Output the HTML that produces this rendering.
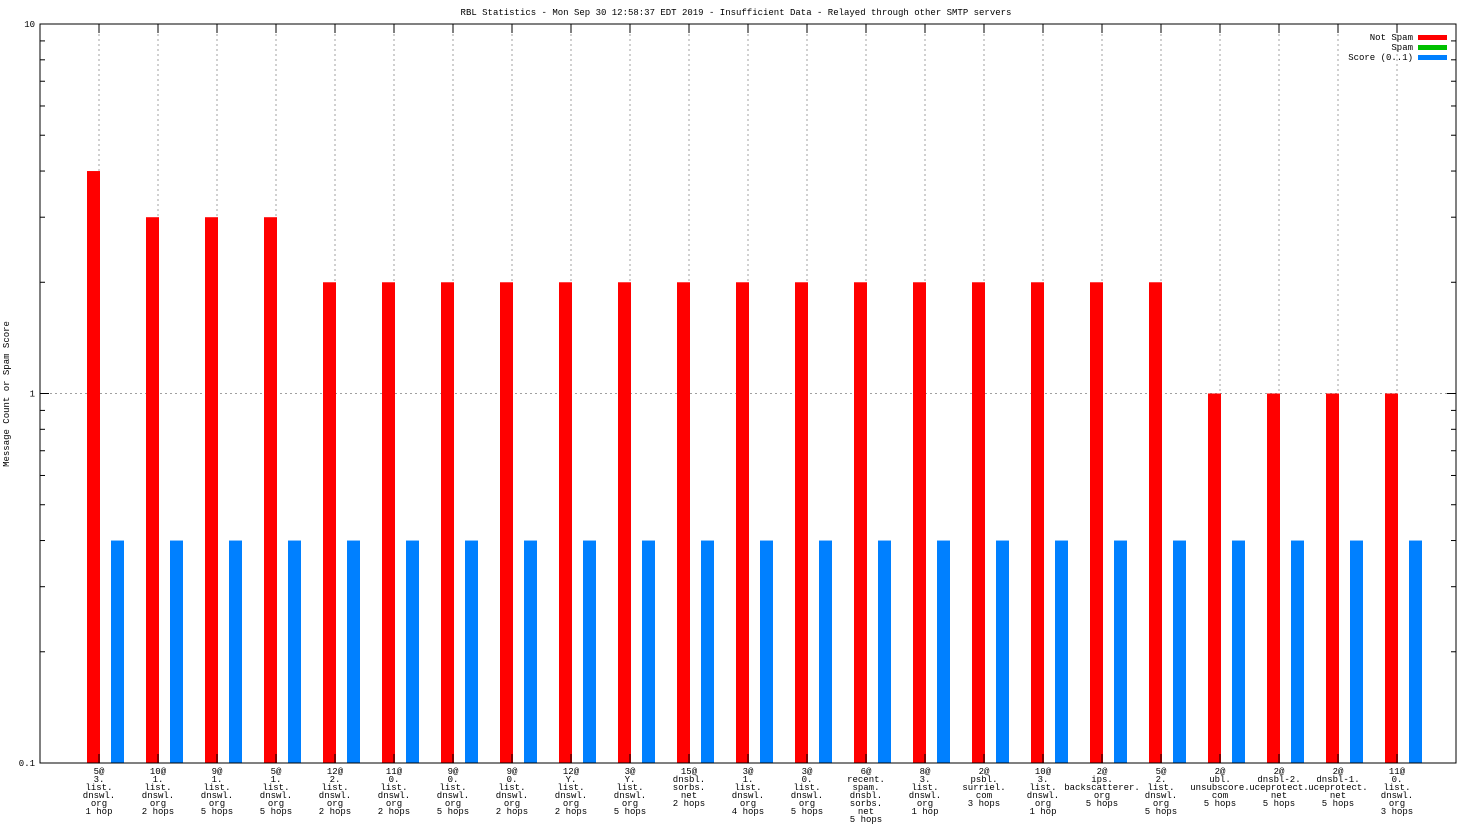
<!DOCTYPE html>
<html><head><meta charset="utf-8"><style>
body{margin:0;background:#fff;}
svg{display:block;font-family:"Liberation Mono","DejaVu Sans Mono",monospace;font-size:9px;}
</style></head><body>
<svg id="chart" width="1472" height="828" xmlns="http://www.w3.org/2000/svg">
<text x="736" y="15" text-anchor="middle">RBL Statistics - Mon Sep 30 12:58:37 EDT 2019 - Insufficient Data - Relayed through other SMTP servers</text>
<text transform="translate(9,394) rotate(-90)" text-anchor="middle">Message Count or Spam Score</text>
<g id="grid"></g><g id="bars"></g><g id="axes"></g><g id="xlabels"></g>
<g>
<text x="1413" y="40" text-anchor="end">Not Spam</text>
<rect x="1418" y="35" width="29" height="5" fill="#ff0000"/>
<text x="1413" y="50" text-anchor="end">Spam</text>
<rect x="1418" y="45" width="29" height="5" fill="#00c000"/>
<text x="1413" y="60" text-anchor="end">Score (0..1)</text>
<rect x="1418" y="55" width="29" height="5" fill="#0080ff"/>
</g>
</svg>
<script>
const categories=[
"5@|3.|list.|dnswl.|org|1 hop","10@|1.|list.|dnswl.|org|2 hops","9@|1.|list.|dnswl.|org|5 hops","5@|1.|list.|dnswl.|org|5 hops",
"12@|2.|list.|dnswl.|org|2 hops","11@|0.|list.|dnswl.|org|2 hops","9@|0.|list.|dnswl.|org|5 hops","9@|0.|list.|dnswl.|org|2 hops",
"12@|Y.|list.|dnswl.|org|2 hops","3@|Y.|list.|dnswl.|org|5 hops","15@|dnsbl.|sorbs.|net|2 hops","3@|1.|list.|dnswl.|org|4 hops",
"3@|0.|list.|dnswl.|org|5 hops","6@|recent.|spam.|dnsbl.|sorbs.|net|5 hops","8@|3.|list.|dnswl.|org|1 hop","2@|psbl.|surriel.|com|3 hops",
"10@|3.|list.|dnswl.|org|1 hop","2@|ips.|backscatterer.|org|5 hops","5@|2.|list.|dnswl.|org|5 hops","2@|ubl.|unsubscore.|com|5 hops",
"2@|dnsbl-2.|uceprotect.|net|5 hops","2@|dnsbl-1.|uceprotect.|net|5 hops","11@|0.|list.|dnswl.|org|3 hops"];
const notSpam=[4,3,3,3,2,2,2,2,2,2,2,2,2,2,2,2,2,2,2,1,1,1,1];
const score=[0.4,0.4,0.4,0.4,0.4,0.4,0.4,0.4,0.4,0.4,0.4,0.4,0.4,0.4,0.4,0.4,0.4,0.4,0.4,0.4,0.4,0.4,0.4];
const yTicks=["0.1","1","10"];

const NS="http://www.w3.org/2000/svg";
const L=40,R=1456,T=24,B=763;
const yMin=0.1,yMax=10;
function y(v){return B-(Math.log10(v)-Math.log10(yMin))/(Math.log10(yMax)-Math.log10(yMin))*(B-T);}
const step=(R-L-(99-L)*2+ (99-L)*0)/1;
function x(i){const first=99,last=1397;return first+i*(last-first)/(categories.length-1);}
function mk(tag,attrs,parent){const e=document.createElementNS(NS,tag);for(const k in attrs)e.setAttribute(k,attrs[k]);parent.appendChild(e);return e;}
const grid=document.getElementById('grid'),bars=document.getElementById('bars'),axes=document.getElementById('axes'),xl=document.getElementById('xlabels');

// grid lines
categories.forEach((c,i)=>{
 const g=mk('line',{x1:x(i),x2:x(i),y1:T,y2:B,stroke:'#a0a0a0','stroke-dasharray':'2,3','stroke-width':1},grid);
 
 
});
const hg=mk('line',{x1:L,x2:R,y1:y(1),y2:y(1),stroke:'#a0a0a0','stroke-dasharray':'2,3'},grid);



// bars
categories.forEach((c,i)=>{
 const r=mk('rect',{x:x(i)-12,width:13,y:y(notSpam[i]),height:B-y(notSpam[i]),fill:'#ff0000'},bars);
 
 
 const b=mk('rect',{x:x(i)+12,width:13,y:y(score[i]),height:B-y(score[i]),fill:'#0080ff'},bars);
 
 
});

// axes frame
const fr=mk('rect',{x:L,y:T,width:R-L,height:B-T,fill:'none',stroke:'#000','stroke-width':1},axes);


// y ticks
yTicks.forEach(t=>{
 const v=parseFloat(t),yy=y(v);
 const tl=mk('text',{x:L-5,y:yy+3,'text-anchor':'end'},axes);tl.textContent=t;
 
 
 mk('line',{x1:L,x2:L+9,y1:yy,y2:yy,stroke:'#000'},axes);
 mk('line',{x1:R,x2:R-9,y1:yy,y2:yy,stroke:'#000'},axes);
 if(v<yMax){for(let m=2;m<=9;m++){const my=y(v*m);
  mk('line',{x1:L,x2:L+5,y1:my,y2:my,stroke:'#000'},axes);
  mk('line',{x1:R,x2:R-5,y1:my,y2:my,stroke:'#000'},axes);}}
});
// x ticks & labels
categories.forEach((c,i)=>{
 mk('line',{x1:x(i),x2:x(i),y1:B,y2:B-9,stroke:'#000'},axes);
 mk('line',{x1:x(i),x2:x(i),y1:T,y2:T+9,stroke:'#000'},axes);
 const t=mk('text',{x:x(i),y:774,'text-anchor':'middle'},xl);
 
 
 c.split('|').forEach((ln,k)=>{const s=mk('tspan',{x:x(i),dy:k?8:0},t);s.textContent=ln;});
});
</script>
</body></html>
